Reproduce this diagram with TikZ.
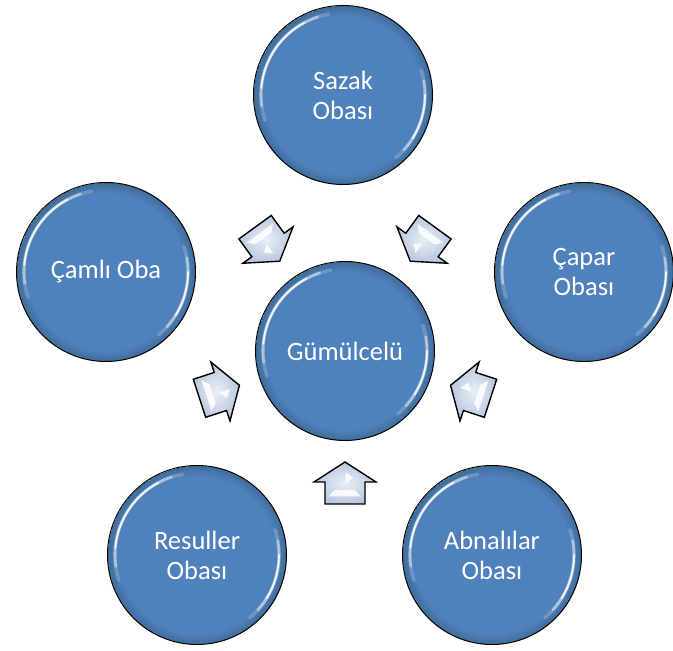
\documentclass[tikz,border=0pt]{standalone}
\usepackage{fontspec}
\setmainfont{Carlito}
\usetikzlibrary{calc}
\definecolor{cb}{HTML}{4F81BD}
\definecolor{cbd}{HTML}{41709F}
\definecolor{ain}{HTML}{EAEFF7}
\definecolor{aout}{HTML}{B8C7DD}
\pgfdeclareradialshading{ballshade}{\pgfpoint{0bp}{0bp}}{color(0bp)=(cb);color(22bp)=(cb);color(24.5bp)=(cbd);color(25bp)=(cbd)}
\tikzset{
  ball/.style={circle, minimum size=179pt, inner sep=0pt, shading=ballshade,
    draw=black, line width=1pt, text=white, align=center,
    font=\fontsize{26.5}{30}\selectfont},
  hl/.style={white, line cap=round},
  blockarrow/.style={draw=black, line width=1.4pt, line join=miter, inner color=ain, outer color=aout},
  ahl/.style={fill=white, opacity=0.85, draw=none}
}
\newcommand\glossy[1]{%
  \foreach \a/\b/\o/\w in {100/198/0.2/3.6, 108/188/0.45/2.6, 118/175/0.85/1.7, -50/18/0.2/3.6, -42/10/0.45/2.6, -32/0/0.85/1.7}{%
    \draw[hl, opacity=\o, line width=\w pt] ($(#1.center)+(\a:82pt)$) arc[start angle=\a, end angle=\b, radius=82pt];
  }%
}
\newcommand\barrow[3]{% name, position, rotation
  \coordinate (#1) at (#2);
  \begin{scope}[shift={(#1)}, rotate=#3]
    \path[blockarrow] (-21,-20) -- (-21,20) -- (1,20) -- (1,31) -- (21,0) -- (1,-31) -- (1,-20) -- cycle;
    \fill[ahl] (11,-0.5) -- (-0.5,-0.5) -- (5,-8) -- cycle;
    \fill[ahl] (-7,10) -- (-7,-9.5) -- (-13.5,-16) -- (-13.5,16.5) -- cycle;
  \end{scope}
}
\begin{document}
\begin{tikzpicture}[x=1pt, y=1pt]
\useasboundingbox (0,0) rectangle (673,651);
\node[ball] (g) at (345,300) {Gümülcelü};
\node[ball] (s) at (343,556) {Sazak\\Obası};
\node[ball] (c) at (584,379) {Çapar\\Obası};
\node[ball] (o) at (106,379) {Çamlı Oba};
\node[ball] (r) at (197,96) {Resuller\\Obası};
\node[ball] (a) at (492,96) {Abnalılar\\Obası};
\foreach \n in {g,s,c,o,r,a}{\glossy{\n}}
\barrow{a1}{$(g.center)+(126:132)$}{306}
\barrow{a2}{$(g.center)+(54:132)$}{234}
\barrow{a3}{$(g.center)+(198:132)$}{18}
\barrow{a4}{$(g.center)+(342:132)$}{162}
\barrow{a5}{$(g.center)+(270:132)$}{90}
\end{tikzpicture}
\end{document}
